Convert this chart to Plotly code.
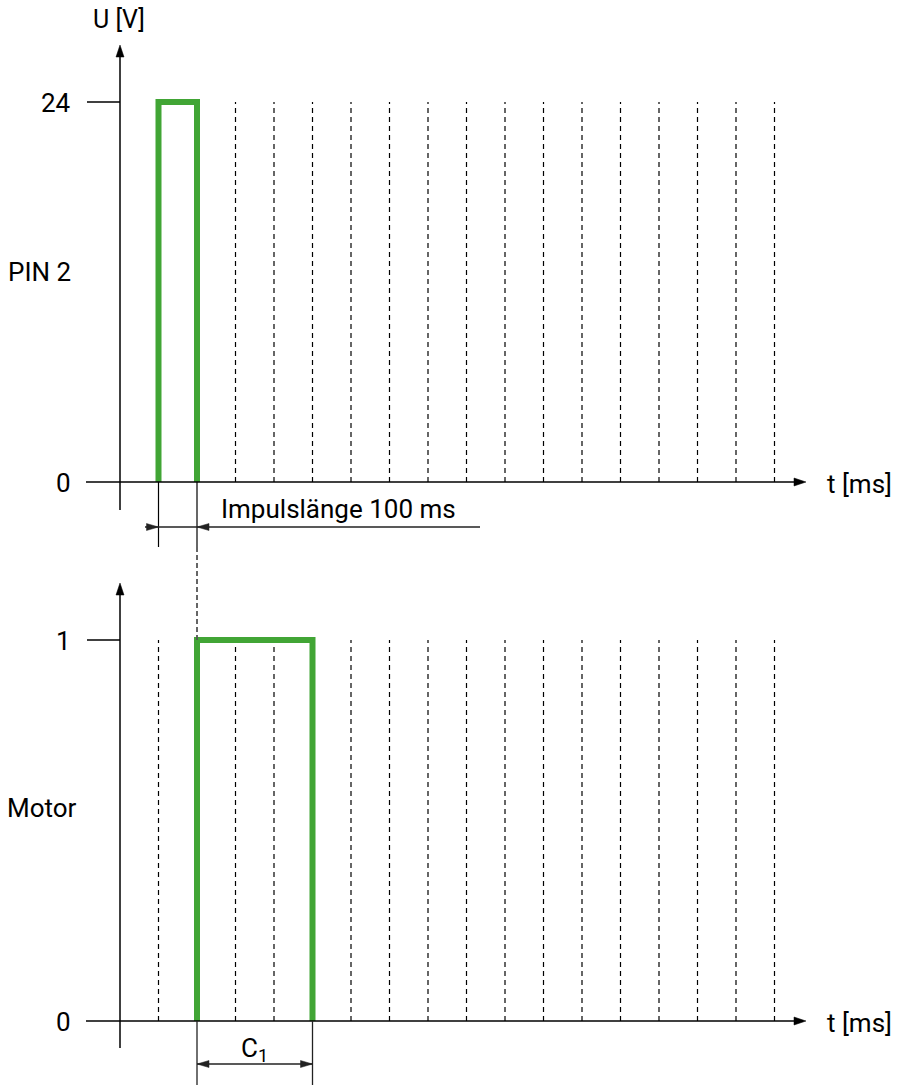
import plotly.graph_objects as go

W, H = 900, 1085

# ---------------- data ----------------
grid_t = list(range(1, 18))          # dashed time grid (units of 100 ms)
pin_t = [1, 1, 2, 2]                 # PIN 2 impulse
pin_u = [0, 24, 24, 0]
motor_t = [2, 2, 5, 5]               # motor state
motor_v = [0, 1, 1, 0]
pin_ticks = [0, 24]
motor_ticks = [0, 1]
pulse_start, pulse_end = 1, 2
c1_start, c1_end = 2, 5

# ---------------- scales (pixel layout) ----------------
X_ORIGIN_PX, X_STEP_PX = 120, 38.5
TOP_ZERO_PX, TOP_MAX_PX = 482, 102
BOT_ZERO_PX, BOT_MAX_PX = 1021, 640
top_scale = (TOP_ZERO_PX - TOP_MAX_PX) / max(pin_ticks)
bot_scale = (BOT_ZERO_PX - BOT_MAX_PX) / max(motor_ticks)

x_range = [-X_ORIGIN_PX / X_STEP_PX, (W - X_ORIGIN_PX) / X_STEP_PX]
y_range = [(TOP_ZERO_PX - H) / top_scale, TOP_ZERO_PX / top_scale]
y2_range = [(BOT_ZERO_PX - H) / bot_scale, BOT_ZERO_PX / bot_scale]


def xpx(t):
    return X_ORIGIN_PX + t * X_STEP_PX


def ytop_px(v):
    return TOP_ZERO_PX - v * top_scale


def ybot_px(v):
    return BOT_ZERO_PX - v * bot_scale


def px(x, y):
    return x / W, 1 - y / H


GREEN = "#41a535"
BLACK = "#000000"
DIM = "#222222"

fig = go.Figure()

# dashed grid lines
gx, gy = [], []
for t in grid_t:
    gx += [t, t, None]
    gy += [0, max(pin_ticks), None]
fig.add_trace(go.Scatter(x=gx, y=gy, mode="lines", yaxis="y",
                         line=dict(color=BLACK, width=1.2, dash="5px,4px"),
                         hoverinfo="skip", showlegend=False))
gx2, gy2 = [], []
for t in grid_t:
    gx2 += [t, t, None]
    gy2 += [0, max(motor_ticks), None]
fig.add_trace(go.Scatter(x=gx2, y=gy2, mode="lines", yaxis="y2",
                         line=dict(color=BLACK, width=1.2, dash="5px,4px"),
                         hoverinfo="skip", showlegend=False))

# signals
fig.add_trace(go.Scatter(x=pin_t, y=pin_u, mode="lines", yaxis="y",
                         line=dict(color=GREEN, width=6),
                         hoverinfo="skip", showlegend=False))
fig.add_trace(go.Scatter(x=motor_t, y=motor_v, mode="lines", yaxis="y2",
                         line=dict(color=GREEN, width=6),
                         hoverinfo="skip", showlegend=False))

shapes = []


def line(x0, y0, x1, y1, color=BLACK, width=1.5, dash=None):
    a = px(x0, y0)
    b = px(x1, y1)
    d = dict(type="line", xref="paper", yref="paper", x0=a[0], y0=a[1],
             x1=b[0], y1=b[1], line=dict(color=color, width=width))
    if dash:
        d["line"]["dash"] = dash
    shapes.append(d)


def arrowhead(tipx, tipy, direction, color=BLACK, length=12, half=4):
    if direction == "right":
        pts = [(tipx, tipy), (tipx - length, tipy - half), (tipx - length, tipy + half)]
    elif direction == "left":
        pts = [(tipx, tipy), (tipx + length, tipy - half), (tipx + length, tipy + half)]
    else:  # up
        pts = [(tipx, tipy), (tipx - half, tipy + length), (tipx + half, tipy + length)]
    p = [px(*q) for q in pts]
    path = "M {} {} L {} {} L {} {} Z".format(p[0][0], p[0][1], p[1][0], p[1][1], p[2][0], p[2][1])
    shapes.append(dict(type="path", xref="paper", yref="paper", path=path,
                       fillcolor=color, line=dict(color=color, width=0.5)))


# axes of the two panels
for zero_px, top_tick_px, yaxis_top, yaxis_bottom in [
        (TOP_ZERO_PX, ytop_px(max(pin_ticks)), 45, 510),
        (BOT_ZERO_PX, ybot_px(max(motor_ticks)), 583, 1048)]:
    line(86, zero_px, 800, zero_px)
    arrowhead(806, zero_px, "right")
    line(X_ORIGIN_PX, yaxis_bottom, X_ORIGIN_PX, yaxis_top + 8)
    arrowhead(X_ORIGIN_PX, yaxis_top, "up")
    line(87, top_tick_px, X_ORIGIN_PX, top_tick_px)

# Impulslänge dimension
dim_y = 527
line(xpx(pulse_start), TOP_ZERO_PX, xpx(pulse_start), 547, width=1.2)
line(xpx(pulse_end), TOP_ZERO_PX, xpx(pulse_end), 547, width=1.2)
line(xpx(pulse_end), 547, xpx(pulse_end), ybot_px(max(motor_ticks)),
     color="#555555", width=1.8, dash="5px,3px")
line(145, dim_y, 480, dim_y, color=DIM, width=1.3)
arrowhead(xpx(pulse_start), dim_y, "right", color=DIM, length=12, half=3.5)
arrowhead(xpx(pulse_end), dim_y, "left", color=DIM, length=12, half=3.5)

# C1 dimension
c1_y = 1064
line(xpx(c1_start), BOT_ZERO_PX, xpx(c1_start), H, color=DIM, width=1.3)
line(xpx(c1_end), BOT_ZERO_PX, xpx(c1_end), H, color=DIM, width=1.3)
line(xpx(c1_start), c1_y, xpx(c1_end), c1_y, color=DIM, width=1.3)
arrowhead(xpx(c1_start), c1_y, "left", color=DIM, length=12, half=3.5)
arrowhead(xpx(c1_end), c1_y, "right", color=DIM, length=12, half=3.5)

FONT = dict(family="Roboto", size=26, color=BLACK)
annotations = []


def text(s, x, y, xanchor="center", yanchor="middle", size=26):
    p = px(x, y)
    annotations.append(dict(text=s, x=p[0], y=p[1], xref="paper", yref="paper",
                            xanchor=xanchor, yanchor=yanchor, showarrow=False,
                            font=dict(FONT, size=size)))


text("U [V]", 119, 19, size=25)
text("PIN 2", 6, 272, xanchor="left")
text("Motor", 5, 808, xanchor="left")
for v in pin_ticks:
    text(str(v), 73, ytop_px(v) + 1, xanchor="right")
for v in motor_ticks:
    text(str(v), 73, ybot_px(v) + 1, xanchor="right")
text("t [ms]", 825, TOP_ZERO_PX + 2, xanchor="left")
text("t [ms]", 825, BOT_ZERO_PX + 2, xanchor="left")
text("Impulslänge 100 ms", 219, 509, xanchor="left")
text("C<sub>1</sub>", (xpx(c1_start) + xpx(c1_end)) / 2, 1049)

fig.update_layout(
    width=W, height=H,
    margin=dict(l=0, r=0, t=0, b=0),
    paper_bgcolor="white", plot_bgcolor="white",
    xaxis=dict(range=x_range, visible=False, fixedrange=True),
    yaxis=dict(range=y_range, visible=False, domain=[0, 1], fixedrange=True),
    yaxis2=dict(range=y2_range, visible=False, overlaying="y", fixedrange=True),
    shapes=shapes,
    annotations=annotations,
    showlegend=False,
)

fig.write_html("out.html", config={"displayModeBar": False},
               post_script="document.body.style.margin='0';")
